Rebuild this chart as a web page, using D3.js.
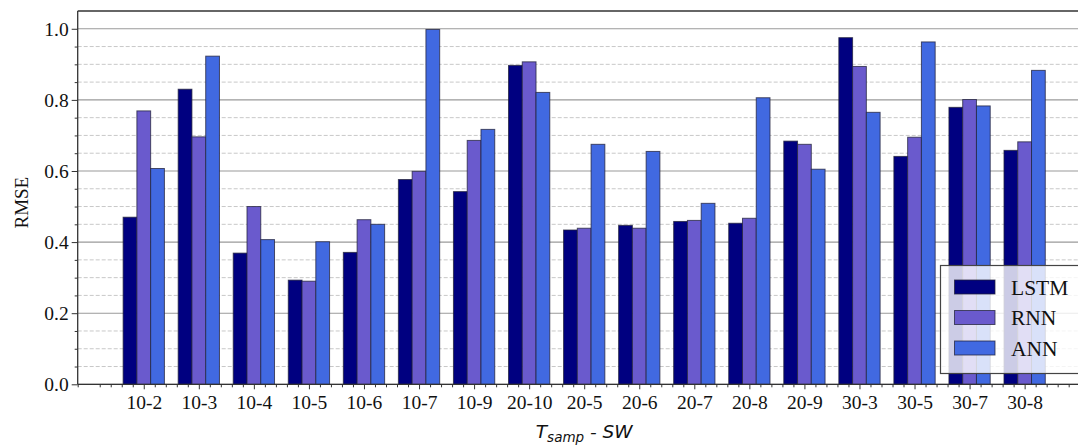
<!DOCTYPE html>
<html>
<head>
<meta charset="utf-8">
<script src="https://cdn.jsdelivr.net/npm/d3@7"></script>
<style>
  html, body { margin: 0; padding: 0; background: #fff; }
  svg { display: block; }
</style>
</head>
<body>
<svg id="chart" width="1078" height="445"></svg>
<script>
// Sampling period - sliding window configurations
const categories = ["10-2","10-3","10-4","10-5","10-6","10-7","10-9","20-10","20-5","20-6","20-7","20-8","20-9","30-3","30-5","30-7","30-8"];

// RMSE per model for each configuration
const lstmValues = [0.470, 0.830, 0.369, 0.293, 0.371, 0.576, 0.542, 0.897, 0.434, 0.447, 0.458, 0.453, 0.684, 0.975, 0.641, 0.779, 0.658];
const rnnValues  = [0.769, 0.696, 0.500, 0.290, 0.463, 0.599, 0.686, 0.907, 0.439, 0.439, 0.461, 0.467, 0.675, 0.894, 0.695, 0.801, 0.682];
const annValues  = [0.607, 0.923, 0.407, 0.401, 0.450, 0.998, 0.717, 0.821, 0.675, 0.655, 0.509, 0.806, 0.605, 0.765, 0.963, 0.783, 0.883];

const seriesNames = ["LSTM", "RNN", "ANN"];
const seriesColors = ["#000080", "#6a5acd", "#4169e1"];
const yMajorTicks = [0.0, 0.2, 0.4, 0.6, 0.8, 1.0];

const series = [lstmValues, rnnValues, annValues].map((vals, s) => ({
  name: seriesNames[s], color: seriesColors[s], values: vals
}));

const svg = d3.select("#chart");
const plotLeft = 77.7, plotRight = 1090.7, plotTop = 11, plotBottom = 384.3;
const serif = "'Liberation Serif', 'DejaVu Serif', serif";
const sans = "'DejaVu Sans', sans-serif";

const x = d3.scaleLinear().domain([-1.2, categories.length - 1 + 1.2]).range([plotLeft, plotRight]);
const y = d3.scaleLinear().domain([0, 1.05]).range([plotBottom, plotTop]);
const barW = 0.25; // in category units

// minor dashed grid
const minorVals = d3.range(0.05, 1.05, 0.05).filter(v => Math.abs(v * 5 - Math.round(v * 5)) > 1e-6);
svg.append("g").selectAll("line").data(minorVals).join("line")
  .attr("x1", plotLeft).attr("x2", plotRight)
  .attr("y1", d => y(d)).attr("y2", d => y(d))
  .attr("stroke", "#c8c8c8").attr("stroke-width", 1).attr("stroke-dasharray", "4,2");

// major solid grid
svg.append("g").selectAll("line").data(yMajorTicks).join("line")
  .attr("x1", plotLeft).attr("x2", plotRight)
  .attr("y1", d => y(d)).attr("y2", d => y(d))
  .attr("stroke", "#9a9a9a").attr("stroke-width", 1.1);

// bars
series.forEach((s, si) => {
  svg.append("g").selectAll("rect").data(s.values).join("rect")
    .attr("x", (d, i) => x(i + (si - 1) * barW - barW / 2))
    .attr("width", x(barW) - x(0))
    .attr("y", d => y(d))
    .attr("height", d => y(0) - y(d))
    .attr("fill", s.color)
    .attr("stroke", "#22223a").attr("stroke-opacity", 0.75).attr("stroke-width", 1);
});

// axes
const yAxis = svg.append("g").attr("transform", `translate(${plotLeft},0)`)
  .call(d3.axisLeft(y).tickValues(yMajorTicks).tickFormat(d3.format(".1f")).tickSize(6).tickPadding(3));
const yMinor = svg.append("g").attr("transform", `translate(${plotLeft},0)`)
  .call(d3.axisLeft(y).tickValues(minorVals).tickFormat("").tickSize(3));
const xMinorVals = d3.range(-1.2, categories.length + 1.2, 0.2).filter(v => Math.abs(v - Math.round(v)) > 1e-6);
const xAxis = svg.append("g").attr("transform", `translate(0,${plotBottom})`)
  .call(d3.axisBottom(x).tickValues(d3.range(categories.length)).tickFormat(i => categories[i]).tickSize(5).tickPadding(6));
const xMinor = svg.append("g").attr("transform", `translate(0,${plotBottom})`)
  .call(d3.axisBottom(x).tickValues(xMinorVals).tickFormat("").tickSize(3));

[yAxis, yMinor, xAxis, xMinor].forEach(g => {
  g.select(".domain").remove();
  g.selectAll(".tick line").attr("stroke", "#333");
});
yAxis.selectAll(".tick text").attr("font-family", serif).attr("font-size", 19.5).attr("fill", "#111");
xAxis.selectAll(".tick text").attr("font-family", serif).attr("font-size", 19.5).attr("fill", "#111");

// spines
svg.append("line").attr("x1", plotLeft).attr("x2", plotRight).attr("y1", plotTop).attr("y2", plotTop).attr("stroke", "#333").attr("stroke-width", 1.3);
svg.append("line").attr("x1", plotLeft).attr("x2", plotRight).attr("y1", plotBottom).attr("y2", plotBottom).attr("stroke", "#333").attr("stroke-width", 1.3);
svg.append("line").attr("x1", plotLeft).attr("x2", plotLeft).attr("y1", plotTop).attr("y2", plotBottom).attr("stroke", "#333").attr("stroke-width", 1.3);

// axis titles
svg.append("text")
  .attr("transform", `translate(28,${(plotTop + plotBottom) / 2 + 5}) rotate(-90)`)
  .attr("text-anchor", "middle")
  .attr("font-family", serif).attr("font-size", 19).attr("fill", "#111")
  .text("RMSE");

const xt = svg.append("text")
  .attr("x", (plotLeft + plotRight) / 2).attr("y", 438)
  .attr("text-anchor", "middle")
  .attr("font-family", sans).attr("font-style", "italic").attr("font-size", 18.5).attr("fill", "#111");
xt.append("tspan").text("T");
xt.append("tspan").attr("font-size", 13.5).attr("dy", 4).text("samp");
xt.append("tspan").attr("dy", -4).text(" - SW");

// legend
const lg = svg.append("g");
lg.append("rect").attr("x", 940.5).attr("y", 265.5).attr("width", 160).attr("height", 108)
  .attr("fill", "#fff").attr("fill-opacity", 0.8).attr("stroke", "#444").attr("stroke-width", 1.2);
series.forEach((s, i) => {
  const cy = 287 + i * 30.5;
  lg.append("rect").attr("x", 954.5).attr("y", cy - 7).attr("width", 40.5).attr("height", 14)
    .attr("fill", s.color).attr("stroke", "#22223a").attr("stroke-opacity", 0.75);
  lg.append("text").attr("x", 1011).attr("y", cy + 7.5)
    .attr("font-family", serif).attr("font-size", 21.5).attr("fill", "#111")
    .text(s.name);
});
</script>
</body>
</html>
